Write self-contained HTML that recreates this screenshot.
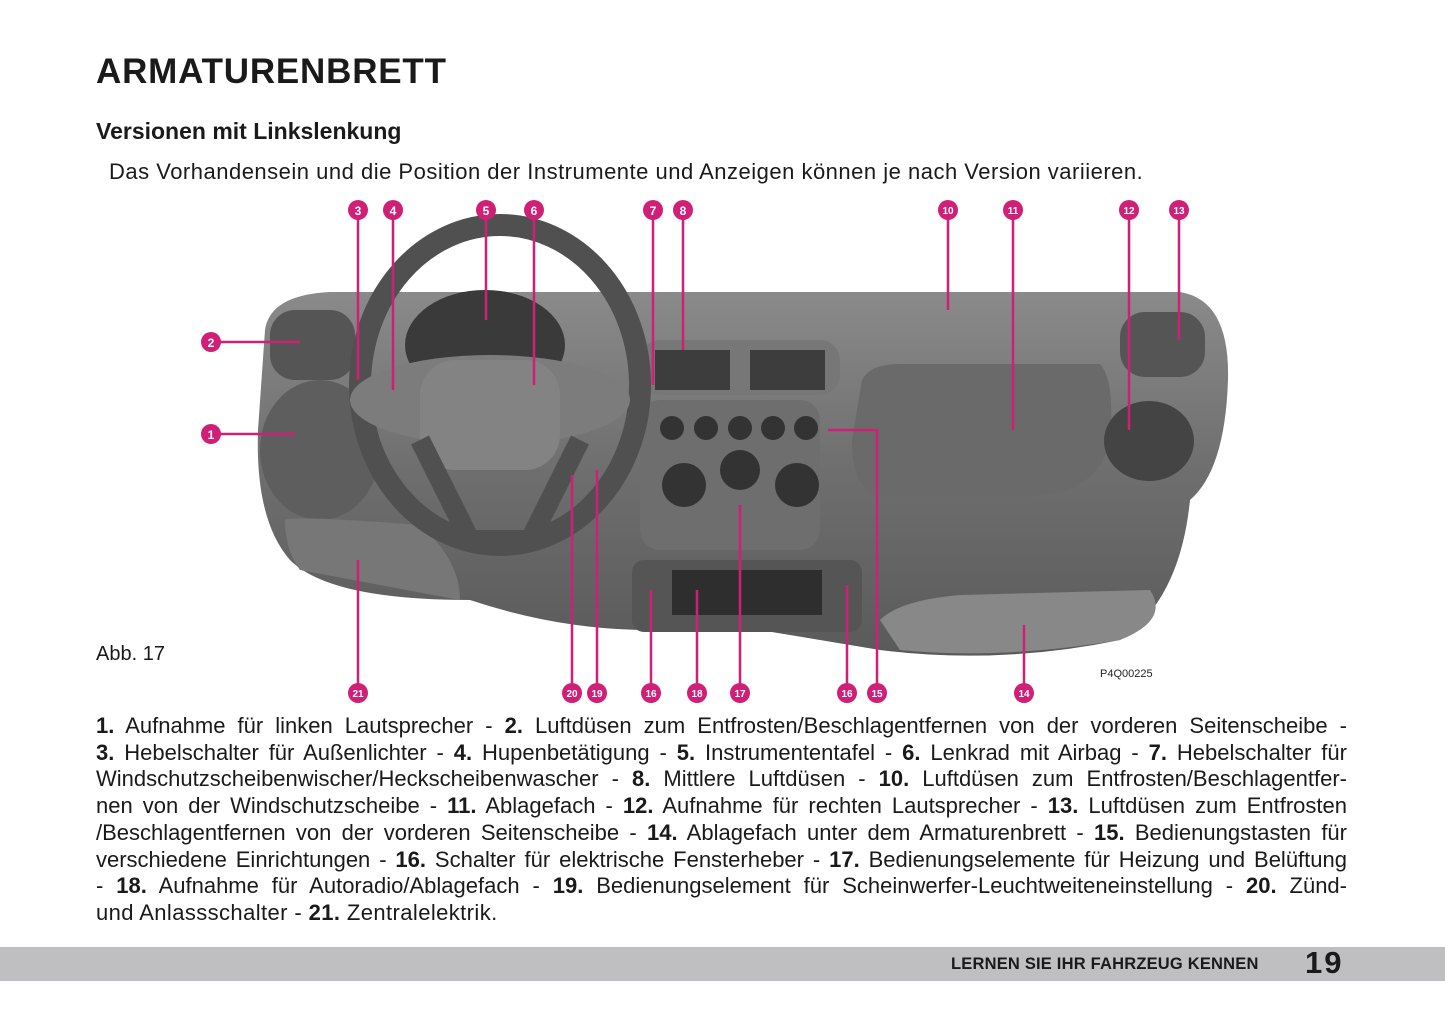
<!DOCTYPE html>
<html><head><meta charset="utf-8"><style>
body{margin:0;width:1445px;height:1019px;background:#fff;position:relative;overflow:hidden;font-family:"Liberation Sans",sans-serif;color:#1a1a1a}
.t{position:absolute;left:96px;top:52px;font-size:35px;font-weight:900;letter-spacing:0.8px}
.s{position:absolute;left:96px;top:118px;font-size:23px;font-weight:bold}
.i{position:absolute;left:109px;top:159px;font-size:22px;letter-spacing:0.5px}
.abb{position:absolute;left:96px;top:643px;font-size:20px}
.body{position:absolute;left:96px;top:713px;width:1251px;font-size:22px;line-height:26.7px}
.body div{text-align:justify;text-align-last:justify;white-space:nowrap}
.body div.l{text-align-last:left;letter-spacing:0.4px}
.foot{position:absolute;left:0;top:947px;width:1445px;height:34px;background:#bfbfc1}
.ft{position:absolute;left:951px;top:955px;font-size:16.5px;font-weight:bold;letter-spacing:0.2px}
.pn{position:absolute;left:1305px;top:945px;font-size:31px;font-weight:900;letter-spacing:2px}
</style></head><body>
<div class="t">ARMATURENBRETT</div>
<div class="s">Versionen mit Linkslenkung</div>
<div class="i">Das Vorhandensein und die Position der Instrumente und Anzeigen können je nach Version variieren.</div>
<svg style="position:absolute;left:0;top:0" width="1445" height="710">
<defs>
<linearGradient id="g" x1="0" y1="0" x2="0" y2="1"><stop offset="0" stop-color="#8a8a8a"/><stop offset=".5" stop-color="#6e6e6e"/><stop offset="1" stop-color="#5a5a5a"/></linearGradient>
</defs>
<path d="M265 330 Q270 295 330 292 L1180 292 Q1230 300 1228 380 Q1225 470 1190 500 Q1180 600 1120 640 Q1000 665 880 650 Q820 640 760 630 L650 630 Q560 630 470 600 Q330 600 290 560 Q255 520 258 430 Z" fill="url(#g)"/>
<path d="M862 380 Q870 364 900 364 L1100 364 Q1115 380 1110 440 Q1100 495 1020 497 L880 497 Q852 490 852 440Z" fill="#6a6a6a"/>
<ellipse cx="1149" cy="441" rx="45" ry="40" fill="#444"/>
<rect x="1120" y="312" width="85" height="65" rx="25" fill="#555"/>
<rect x="270" y="310" width="85" height="70" rx="25" fill="#555"/>
<ellipse cx="320" cy="450" rx="60" ry="70" fill="#5e5e5e"/>
<rect x="640" y="340" width="200" height="55" rx="20" fill="#777"/>
<rect x="655" y="350" width="75" height="40" fill="#3d3d3d"/><rect x="750" y="350" width="75" height="40" fill="#3d3d3d"/>
<rect x="640" y="400" width="180" height="150" rx="20" fill="#6e6e6e"/>
<g fill="#333"><circle cx="672" cy="428" r="12"/><circle cx="706" cy="428" r="12"/><circle cx="740" cy="428" r="12"/><circle cx="773" cy="428" r="12"/><circle cx="806" cy="428" r="12"/><circle cx="684" cy="485" r="22"/><circle cx="740" cy="470" r="20"/><circle cx="797" cy="485" r="22"/></g>
<rect x="632" y="560" width="230" height="72" rx="12" fill="#555"/>
<rect x="672" y="570" width="150" height="45" fill="#2e2e2e"/>
<path d="M880 620 Q900 600 960 595 L1150 590 Q1170 620 1120 640 Q1000 660 900 650Z" fill="#888"/>
<path d="M285 520 Q290 515 420 525 Q460 560 460 600 L300 570 Q285 550 285 520Z" fill="#777"/>
<ellipse cx="500" cy="385" rx="140" ry="160" fill="none" stroke="#505050" stroke-width="22"/>
<ellipse cx="485" cy="345" rx="80" ry="55" fill="#3a3a3a"/>
<ellipse cx="490" cy="400" rx="140" ry="45" fill="#7c7c7c"/>
<rect x="420" y="360" width="140" height="110" rx="35" fill="#838383"/>
<path d="M420 440 L470 540 L530 540 L580 440" fill="none" stroke="#505050" stroke-width="20"/>
<g stroke="#d01f76" stroke-width="2.5" fill="none">
<path d="M358 210V380M393 210V390M486 210V320M534 210V385M653 210V385M683 210V350M948 210V310M1013 210V430M1129 210V430M1179 210V340M211 342H300M211 434H295M358 693V560M572 693V475M597 693V470M651 693V590M697 693V590M740 693V505M847 693V585M877 693V430H828M1024 693V625"/>
</g>
<g fill="#d01f76">
<circle cx="358" cy="210" r="10"/><circle cx="393" cy="210" r="10"/><circle cx="486" cy="210" r="10"/><circle cx="534" cy="210" r="10"/><circle cx="653" cy="210" r="10"/><circle cx="683" cy="210" r="10"/><circle cx="948" cy="210" r="10"/><circle cx="1013" cy="210" r="10"/><circle cx="1129" cy="210" r="10"/><circle cx="1179" cy="210" r="10"/><circle cx="211" cy="342" r="10"/><circle cx="211" cy="434" r="10"/><circle cx="358" cy="693" r="10"/><circle cx="572" cy="693" r="10"/><circle cx="597" cy="693" r="10"/><circle cx="651" cy="693" r="10"/><circle cx="697" cy="693" r="10"/><circle cx="740" cy="693" r="10"/><circle cx="847" cy="693" r="10"/><circle cx="877" cy="693" r="10"/><circle cx="1024" cy="693" r="10"/>
</g>
<g fill="#fff" font-family="Liberation Sans" font-weight="bold" font-size="12" text-anchor="middle">
<text x="358" y="215">3</text><text x="393" y="215">4</text><text x="486" y="215">5</text><text x="534" y="215">6</text><text x="653" y="215">7</text><text x="683" y="215">8</text><text x="948" y="214" font-size="10">10</text><text x="1013" y="214" font-size="10">11</text><text x="1129" y="214" font-size="10">12</text><text x="1179" y="214" font-size="10">13</text><text x="211" y="347">2</text><text x="211" y="439">1</text><text x="358" y="697" font-size="10">21</text><text x="572" y="697" font-size="10">20</text><text x="597" y="697" font-size="10">19</text><text x="651" y="697" font-size="10">16</text><text x="697" y="697" font-size="10">18</text><text x="740" y="697" font-size="10">17</text><text x="847" y="697" font-size="10">16</text><text x="877" y="697" font-size="10">15</text><text x="1024" y="697" font-size="10">14</text>
</g>
<text x="1100" y="677" font-family="Liberation Sans" font-size="11" fill="#222">P4Q00225</text>
</svg>
<div class="abb">Abb. 17</div>
<div class="body">
<div><b>1.</b> Aufnahme für linken Lautsprecher - <b>2.</b> Luftdüsen zum Entfrosten/Beschlagentfernen von der vorderen Seitenscheibe -</div>
<div><b>3.</b> Hebelschalter für Außenlichter - <b>4.</b> Hupenbetätigung - <b>5.</b> Instrumententafel - <b>6.</b> Lenkrad mit Airbag - <b>7.</b> Hebelschalter für</div>
<div>Windschutzscheibenwischer/Heckscheibenwascher - <b>8.</b> Mittlere Luftdüsen - <b>10.</b> Luftdüsen zum Entfrosten/Beschlagentfer-</div>
<div>nen von der Windschutzscheibe - <b>11.</b> Ablagefach - <b>12.</b> Aufnahme für rechten Lautsprecher - <b>13.</b> Luftdüsen zum Entfrosten</div>
<div>/Beschlagentfernen von der vorderen Seitenscheibe - <b>14.</b> Ablagefach unter dem Armaturenbrett - <b>15.</b> Bedienungstasten für</div>
<div>verschiedene Einrichtungen - <b>16.</b> Schalter für elektrische Fensterheber - <b>17.</b> Bedienungselemente für Heizung und Belüftung</div>
<div>- <b>18.</b> Aufnahme für Autoradio/Ablagefach - <b>19.</b> Bedienungselement für Scheinwerfer-Leuchtweiteneinstellung - <b>20.</b> Zünd-</div>
<div class="l">und Anlassschalter - <b>21.</b> Zentralelektrik.</div>
</div>
<div class="foot"></div>
<div class="ft">LERNEN SIE IHR FAHRZEUG KENNEN</div>
<div class="pn">19</div>
</body></html>
